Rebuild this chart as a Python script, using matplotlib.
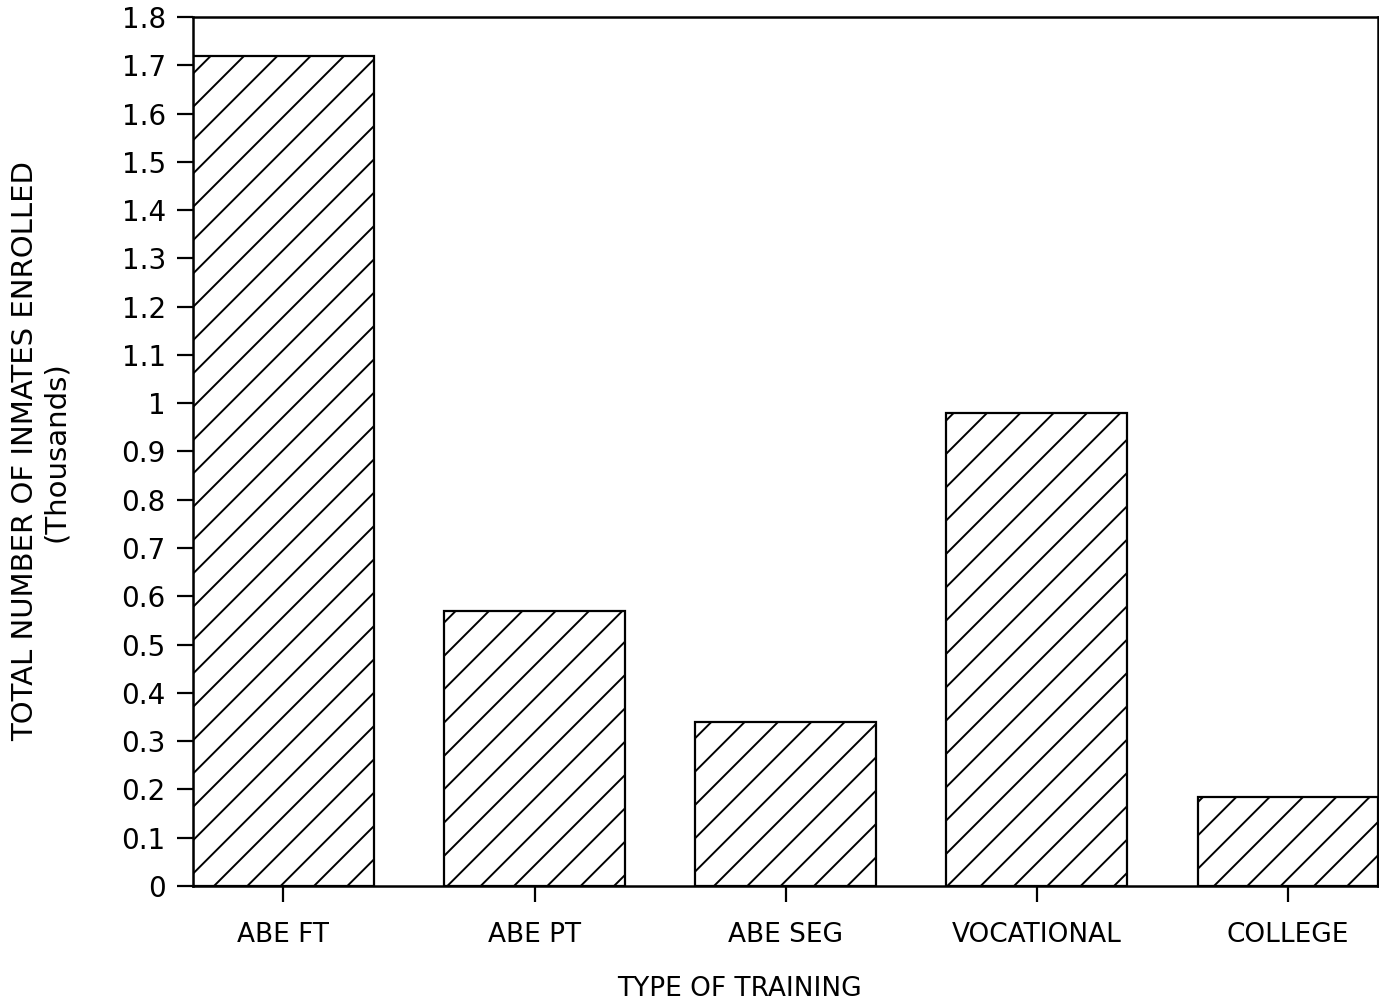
import numpy as np
import matplotlib
matplotlib.use('Agg')
import matplotlib.pyplot as plt

categories = ['ABE FT', 'ABE PT', 'ABE SEG', 'VOCATIONAL', 'COLLEGE']
enrolled = [1.72, 0.57, 0.34, 0.98, 0.185]   # thousands
yticks = np.arange(0, 1.81, 0.1)
ytick_labels = ['0', '0.1', '0.2', '0.3', '0.4', '0.5', '0.6', '0.7', '0.8', '0.9',
                '1', '1.1', '1.2', '1.3', '1.4', '1.5', '1.6', '1.7', '1.8']

plt.rcParams['font.family'] = ['DejaVu Sans']
plt.rcParams['hatch.linewidth'] = 0.7
plt.rcParams['hatch.color'] = 'black'

fig = plt.figure(figsize=(6.895, 5.03), dpi=200)
ax = fig.add_axes([0.14, 0.1193, 0.8595, 0.8638])

w = 0.72
x = np.arange(len(categories))
ax.bar(x, enrolled, width=w, facecolor='white', edgecolor='black',
       linewidth=0.8, hatch='//')

ax.set_xlim(-w / 2, len(categories) - 1 + w / 2)
ax.set_ylim(0, 1.8)

ax.set_yticks(yticks)
ax.set_yticklabels(ytick_labels, fontsize=10)
ax.set_xticks(x)
ax.set_xticklabels(categories, fontsize=9.5)

ax.tick_params(axis='y', direction='out', length=5.8, width=0.8, pad=4)
ax.tick_params(axis='x', direction='out', length=5.8, width=0.8, pad=7)
for s in ax.spines.values():
    s.set_linewidth(0.9)

ax.set_ylabel('TOTAL NUMBER OF INMATES ENROLLED\n(Thousands)', fontsize=10.5,
              linespacing=1.1)
ax.yaxis.set_label_coords(-0.104, 0.5)
ax.set_xlabel('TYPE OF TRAINING', fontsize=9.5)
ax.xaxis.set_label_coords(0.461, -0.104)

fig.savefig('out.png', dpi=200)
